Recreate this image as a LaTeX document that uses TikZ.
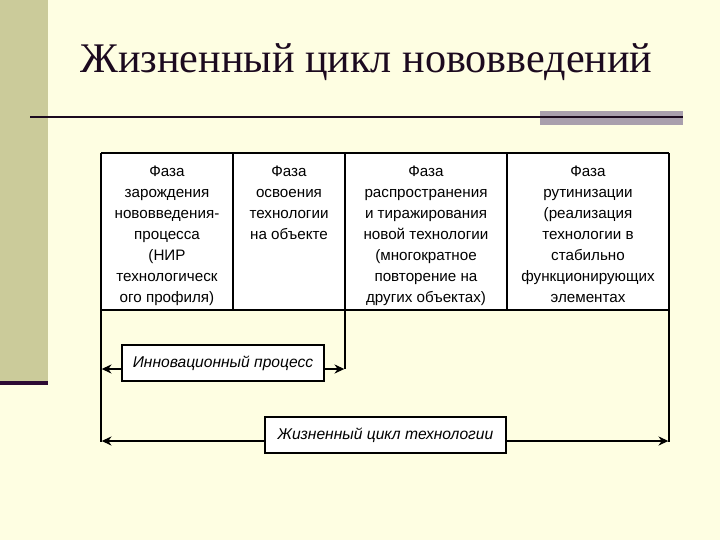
\documentclass[tikz,border=0pt]{standalone}
\usepackage{fontspec}
\setmainfont{Liberation Serif}
\setsansfont{Liberation Sans}
\usetikzlibrary{arrows.meta, positioning, shadows}

\definecolor{slidebg}{RGB}{254,254,226}
\definecolor{sidebar}{RGB}{203,203,154}
\definecolor{plum}{RGB}{45,11,51}
\definecolor{greyblock}{RGB}{169,159,173}
\definecolor{titleink}{RGB}{28,10,31}

\begin{document}
\begin{tikzpicture}[
    x=0.025cm, y=-0.025cm,
    >={Stealth[length=7pt, width=6.5pt]},
    grid/.style={line width=0.9pt, black},
    phase/.style={font=\sffamily\fontsize{10.8}{14.9}\selectfont, align=center, anchor=north, inner sep=0pt},
    period/.style={draw, line width=0.8pt, fill=white, font=\sffamily\itshape\fontsize{11.1}{14}\selectfont,
        minimum height=36*0.025cm, inner xsep=3pt,
        drop shadow={black, opacity=1, shadow xshift=0.8pt, shadow yshift=-0.8pt}},
    span/.style={->, line width=0.8pt, shorten >=0.5pt}
]

% Slide background
\useasboundingbox (0,0) rectangle (720,540);
\fill[slidebg] (0,0) rectangle (720,540);
\fill[sidebar] (0,0) rectangle (48,381);
\fill[plum] (0,381) rectangle (48,385);

% Title and rule
\node[anchor=base west, font=\fontsize{30}{33}\selectfont, text=titleink, inner sep=0pt] (title) at (80,72) {Жизненный цикл нововведений};
\fill[greyblock] (540,111) rectangle (683,125);
\draw[line width=2pt, titleink] (30,117) -- (683,117);

% Header row of phases
\fill[white] (101,153) rectangle (669,310);
\coordinate (tl) at (101,153);
\coordinate (tr) at (669,153);
\coordinate (bl) at (101,310);
\coordinate (br) at (669,310);

\begin{scope}
    \clip (101,153) rectangle (669,310);
    \node[phase] (birth) at (167,166) {Фаза\\зарождения\\нововведения-\\процесса\\(НИР\\технологическ\\ого профиля)};
    \node[phase] (mastery) at (289,166) {Фаза\\освоения\\технологии\\на объекте};
    \node[phase] (spread) at (426,166) {Фаза\\распространения\\и тиражирования\\новой технологии\\(многократное\\повторение на\\других объектах)};
    \node[phase] (routine) at (588,166) {Фаза\\рутинизации\\(реализация\\технологии в\\стабильно\\функционирующих\\элементах};
\end{scope}

% Grid lines
\draw[grid] (tl) -- (tr);
\draw[grid] (bl) -- (br);
\draw[grid] (233,153) -- (233,310);
\draw[grid] (507,153) -- (507,310);
\coordinate (innoR) at (345,369);
\coordinate (innoL) at (101,369);
\coordinate (lifeL) at (101,441);
\coordinate (lifeR) at (669,441);
\draw[grid] (345,153) -- (innoR);
\draw[grid] (tl) -- (101,442);
\draw[grid] (tr) -- (669,442);

% Spans below the table
\node[period, minimum width=202*0.025cm] (inno) at (223,363) {Инновационный процесс};
\node[period, minimum width=241*0.025cm] (life) at (385.5,435) {Жизненный цикл технологии};

\draw[span] (inno.west |- innoL) -- (innoL);
\draw[span] (inno.east |- innoR) -- (innoR);
\draw[span] (life.west |- lifeL) -- (lifeL);
\draw[span] (life.east |- lifeR) -- (lifeR);

\end{tikzpicture}
\end{document}
